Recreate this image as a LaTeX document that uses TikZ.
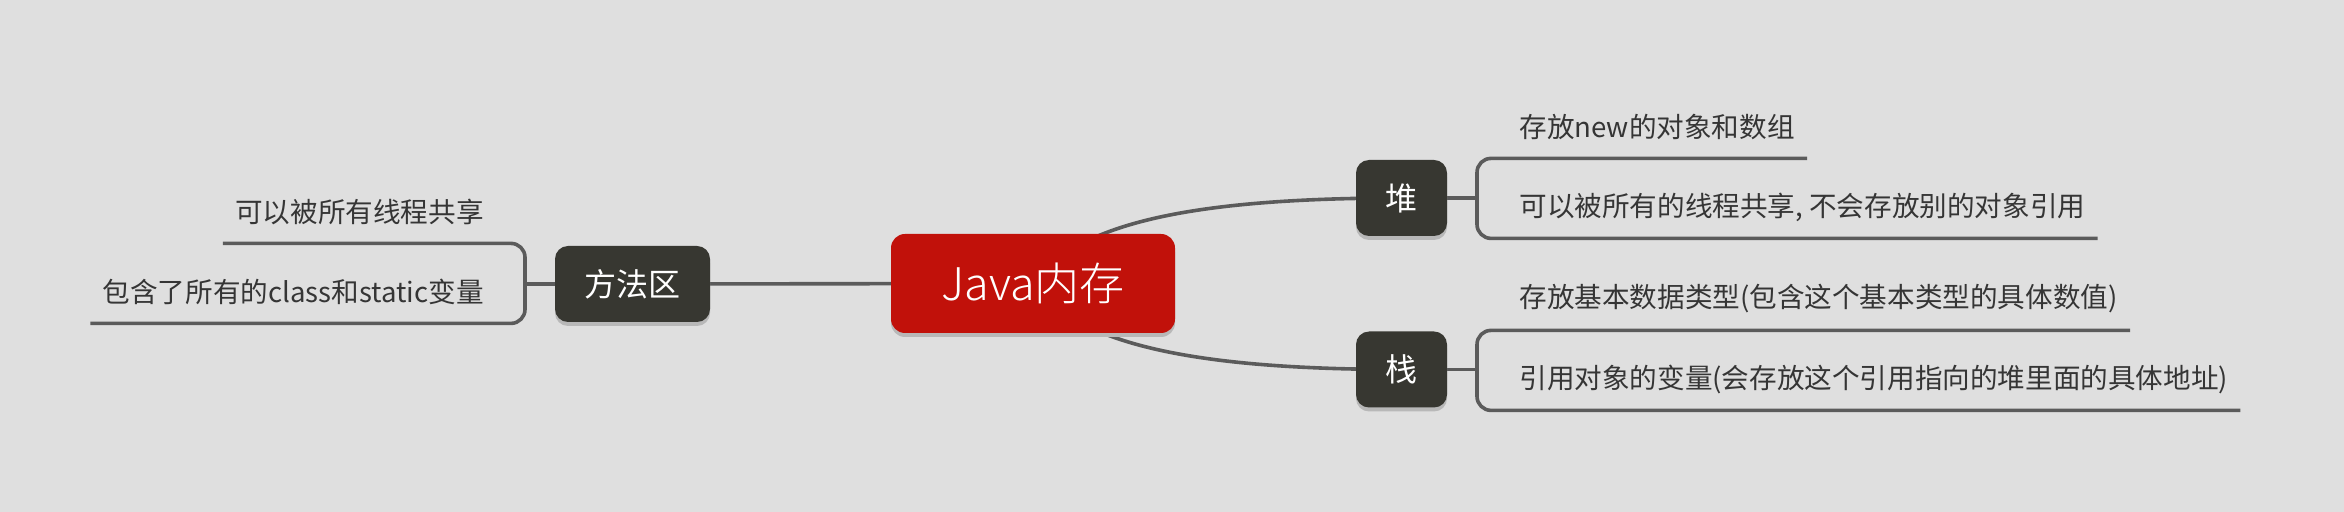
\documentclass[tikz,border=0pt]{standalone}
\usepackage{fontspec}
\setmainfont{Noto Sans CJK SC}
\newfontfamily\lightfont{Noto Sans CJK SC}[UprightFont=* Light]
\usetikzlibrary{shadows}
\pgfdeclarelayer{bgl}
\pgfdeclarelayer{conn}
\pgfsetlayers{bgl,conn,main}
\definecolor{bgc}{HTML}{DFDFDF}
\definecolor{topicc}{HTML}{373731}
\definecolor{centralc}{HTML}{C1110A}
\definecolor{linec}{HTML}{5B5B5B}
\definecolor{txtc}{HTML}{353535}
\definecolor{shadc}{HTML}{B8B8B8}
\tikzset{
  topicbox/.style={fill=topicc, text=white, rounded corners=6.5pt, inner sep=0pt,
    minimum height=38pt, font=\fontsize{16pt}{18pt}\selectfont,
    drop shadow={shadow xshift=0pt, shadow yshift=-2pt, fill=shadc, opacity=1}},
  centralbox/.style={fill=centralc, text=white, rounded corners=7pt, inner sep=0pt,
    minimum width=142pt, minimum height=49.5pt, font=\lightfont\fontsize{22.5pt}{26pt}\selectfont,
    drop shadow={shadow xshift=0pt, shadow yshift=-2pt, fill=shadc, opacity=1}},
  leaf/.style={text=txtc, font=\fontsize{13.8pt}{16pt}\selectfont, inner xsep=6pt, inner ysep=0pt,
    minimum height=31pt},
  connline/.style={draw=linec, line width=1.8pt},
  bracketline/.style={draw=linec, line width=1.8pt, rounded corners=7pt},
}
\begin{document}
\begin{tikzpicture}[x=0.5pt, y=-0.5pt]
\begin{pgfonlayer}{bgl}
\fill[bgc] (0,0) rectangle (2344,512);
\end{pgfonlayer}
\useasboundingbox (0,0) rectangle (2344,512);

% main nodes
\node[centralbox] (java) at (1033,283.5) {Java内存};
\node[topicbox, minimum width=77.5pt] (ff) at (632.5,284) {方法区};
\node[topicbox, minimum width=45.5pt] (dui) at (1401.5,198) {堆};
\node[topicbox, minimum width=45.5pt] (zhan) at (1401.5,369.5) {栈};

% leaves
\node[leaf, anchor=east] (f1) at (496,212) {可以被所有线程共享};
\node[leaf, anchor=east] (f2) at (496,292) {包含了所有的class和static变量};
\node[leaf, anchor=west] (d1) at (1507,127) {存放new的对象和数组};
\node[leaf, anchor=west] (d2) at (1507,207) {可以被所有的线程共享, 不会存放别的对象引用};
\node[leaf, anchor=west] (z1) at (1507,299) {存放基本数据类型(包含这个基本类型的具体数值)};
\node[leaf, anchor=west] (z2) at (1507,379) {引用对象的变量(会存放这个引用指向的堆里面的具体地址)};

\coordinate (bf) at (525,284);
\coordinate (bd) at (1477,198);
\coordinate (bz) at (1477,369.5);

\begin{pgfonlayer}{conn}
\draw[connline] (java.center) -- (ff.center);
\draw[connline] (java.center) .. controls (1075,226) and (1182,198) .. (dui.center);
\draw[connline] (java.center) .. controls (1075,341) and (1182,369.5) .. (zhan.center);
\draw[connline] (ff.center) -- (bf);
\draw[connline] (dui.center) -- (bd);
\draw[connline] (zhan.center) -- (bz);
\end{pgfonlayer}

% brackets with underlines
\draw[bracketline] (f1.south west) -| (bf |- f2.south) -- (f2.south west);
\draw[bracketline] (d1.south east) -| (bd |- d2.south) -- (d2.south east);
\draw[bracketline] (z1.south east) -| (bz |- z2.south) -- (z2.south east);
\end{tikzpicture}
\end{document}
